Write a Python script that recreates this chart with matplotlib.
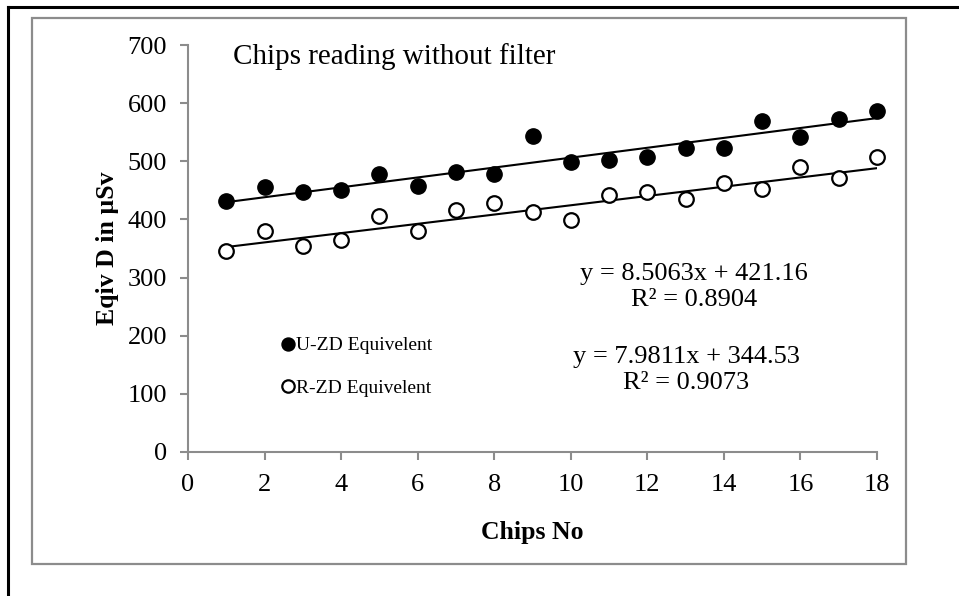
import matplotlib
matplotlib.use("Agg")
import matplotlib.pyplot as plt
import numpy as np
from matplotlib.patches import Rectangle
from matplotlib.lines import Line2D

plt.rcParams['font.family'] = ['Liberation Serif', 'DejaVu Serif']

# chip readings
chips = np.arange(1, 19)
u_zd = [432, 456, 448, 451, 478, 458, 482, 478, 544, 498, 503, 508, 522, 522, 570, 541, 572, 587]
r_zd = [346, 380, 354, 364, 406, 380, 417, 428, 412, 399, 442, 447, 435, 462, 452, 491, 472, 508]

# trendline coefficients shown on the chart
u_fit = [8.5063, 421.16]
r_fit = [7.9811, 344.53]
u_r2 = 0.8904
r_r2 = 0.9073

W, H = 959, 596
fig = plt.figure(figsize=(W / 100, H / 100), dpi=100)

# outer frame: black on top and left, gray chart box
fig.add_artist(Line2D([8 / W, 8 / W], [0, 1 - 7 / H], color='black', lw=2.2))
fig.add_artist(Line2D([8 / W, 1], [1 - 7 / H, 1 - 7 / H], color='black', lw=2.2))
fig.add_artist(Rectangle((32 / W, 1 - 564 / H), (906 - 32) / W, (564 - 18) / H,
                         fill=False, edgecolor='#8c8c8c', lw=1.6))

ax = fig.add_axes([188 / W, 1 - 452 / H, (877 - 188) / W, (452 - 45) / H])

ax.plot(chips, u_zd, 'o', color='black', ms=11, label='U-ZD Equivelent', zorder=3,
        clip_on=False)
ax.plot(chips, r_zd, 'o', mfc='white', mec='black', mew=1.6, ms=10.5,
        label='R-ZD Equivelent', zorder=3, clip_on=False)

xs = np.array([chips[0], chips[-1]])
ax.plot(xs, np.polyval(u_fit, xs), color='black', lw=1.5, zorder=2)
ax.plot(xs, np.polyval(r_fit, xs), color='black', lw=1.5, zorder=2)

ax.set_xlim(0, 18)
ax.set_ylim(0, 700)
ax.set_xticks(range(0, 19, 2))
ax.set_yticks(range(0, 701, 100))
for s in ['top', 'right']:
    ax.spines[s].set_visible(False)
for s in ['left', 'bottom']:
    ax.spines[s].set_color('#8c8c8c')
    ax.spines[s].set_linewidth(1.5)
ax.tick_params(axis='both', direction='out', length=6, width=1.5, color='#8c8c8c',
               labelsize=19)
ax.tick_params(axis='y', pad=9)
ax.tick_params(axis='x', pad=10)

ax.set_xlabel('Chips No', fontsize=18.5, fontweight='bold', labelpad=18)
ax.set_ylabel('Eqiv D in µSv', fontsize=18.5, fontweight='bold', labelpad=6)

ax.text(233 / W, 1 - 57 / H, 'Chips reading without filter', transform=fig.transFigure,
        fontsize=21, va='center', ha='left')

ax.text(694 / W, 1 - 287 / H, 'y = %.4fx + %.2f\nR² = %.4f' % (u_fit[0], u_fit[1], u_r2),
        transform=fig.transFigure, fontsize=19, ha='center', va='center', linespacing=1.25)
ax.text(686 / W, 1 - 370 / H, 'y = %.4fx + %.2f\nR² = %.4f' % (r_fit[0], r_fit[1], r_r2),
        transform=fig.transFigure, fontsize=19, ha='center', va='center', linespacing=1.25)

leg = ax.legend(loc='upper left', bbox_to_anchor=(272 / W, 1 - 327 / H),
                bbox_transform=fig.transFigure, frameon=False, fontsize=14,
                handlelength=0.6, handletextpad=0.15, labelspacing=1.3, markerscale=0.85,
                borderpad=0)

fig.savefig('out.png', dpi=100)
